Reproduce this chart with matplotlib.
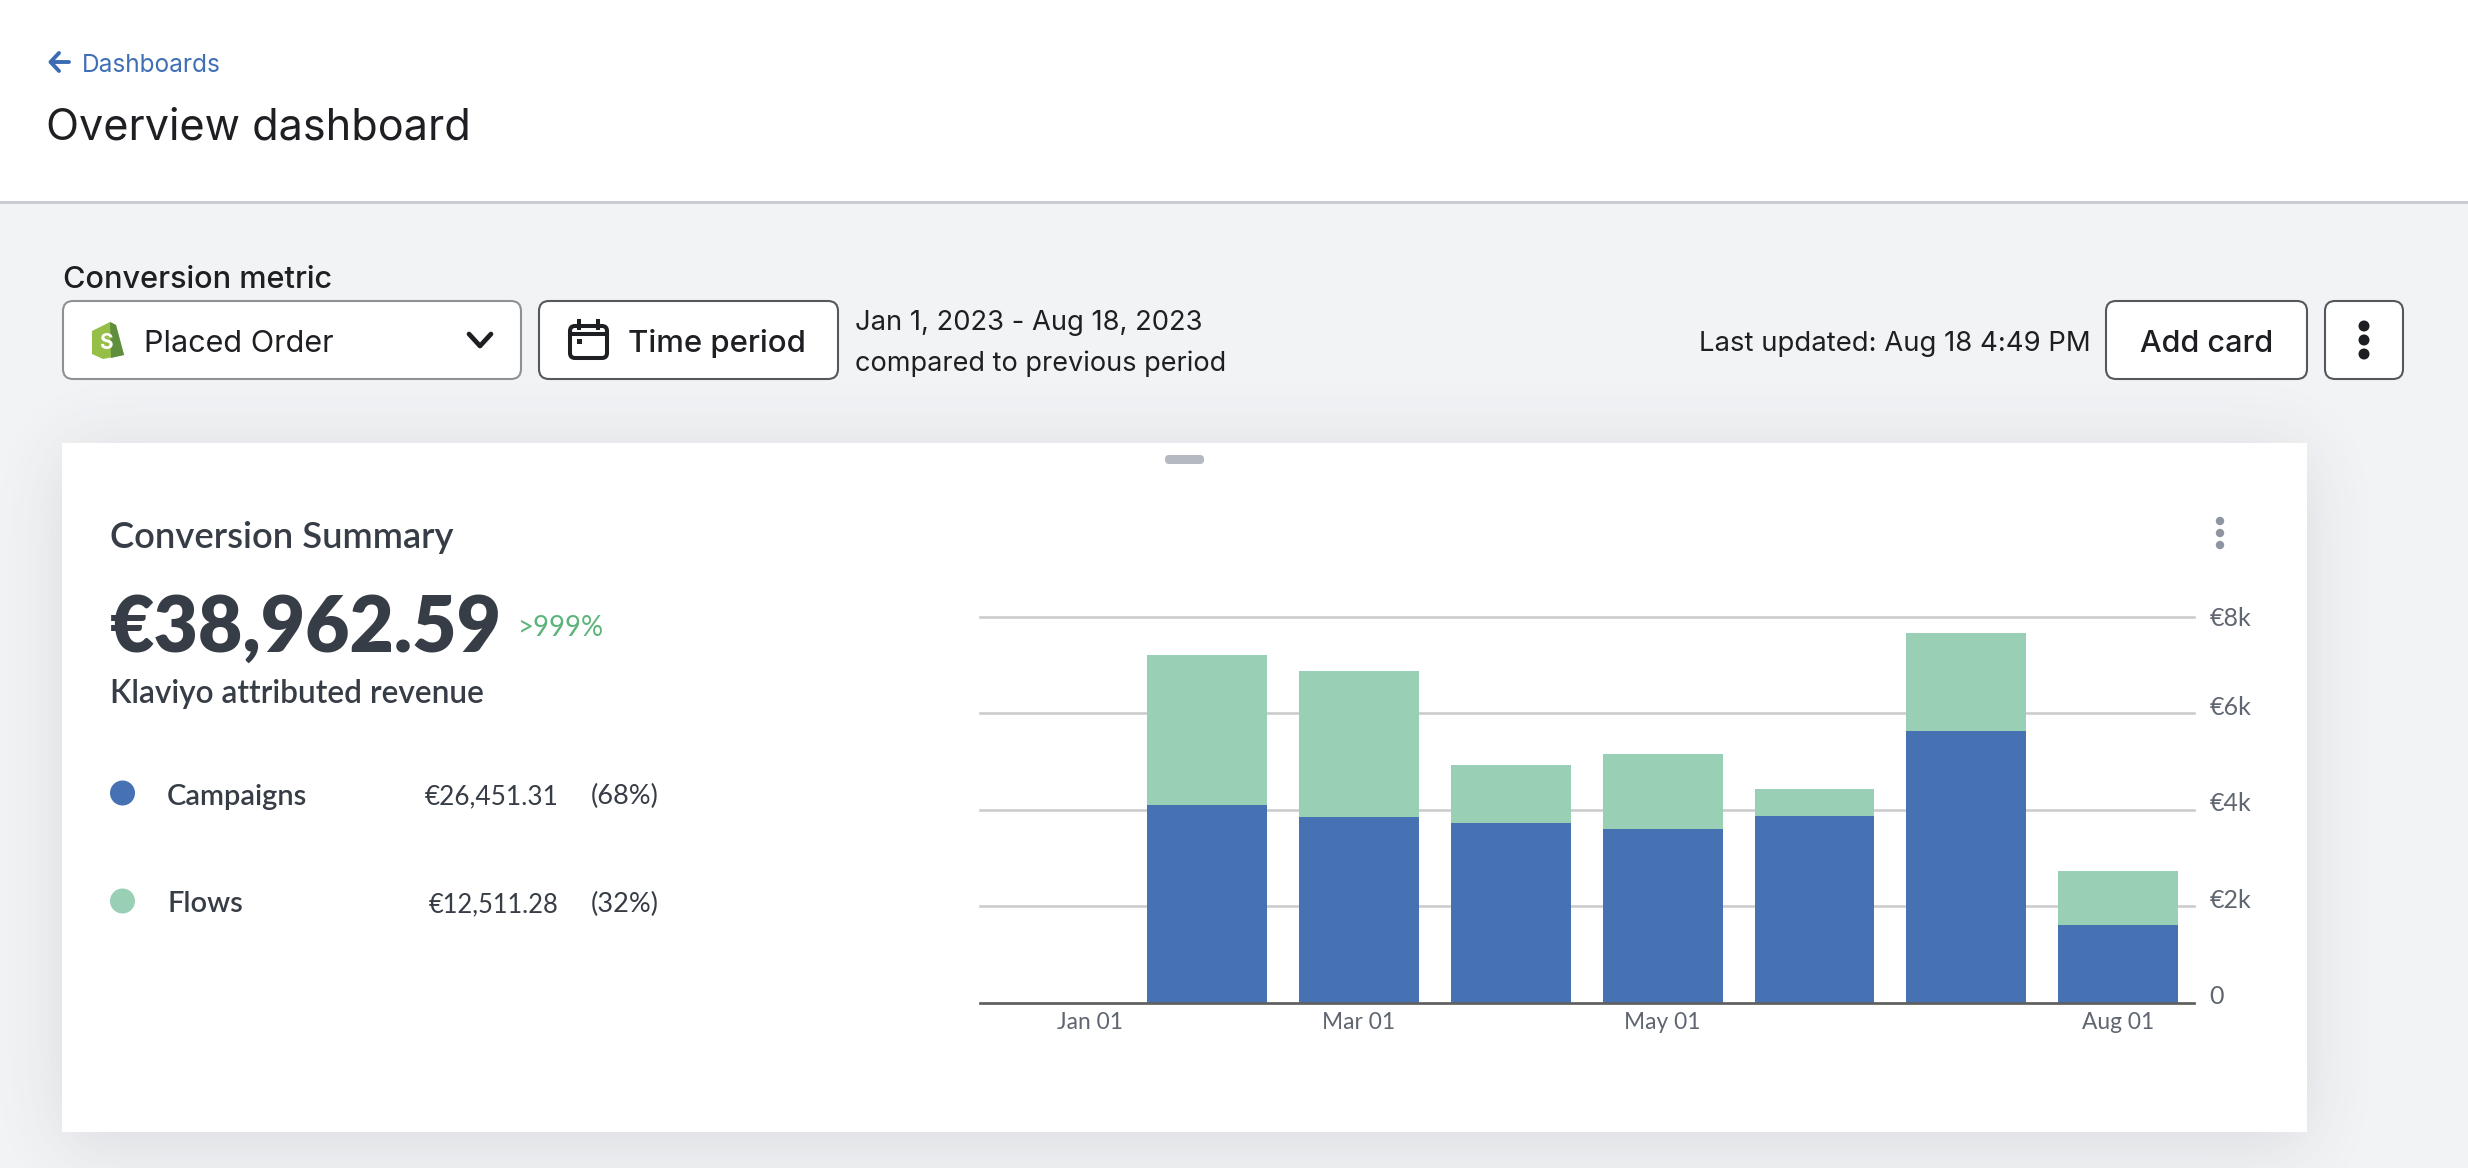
import math
import numpy as np
import matplotlib
matplotlib.use("Agg")
import matplotlib.pyplot as plt
from matplotlib.colors import to_rgb
from matplotlib.patches import FancyBboxPatch, Rectangle, Ellipse, Polygon
from matplotlib.transforms import ScaledTranslation

months = ["Jan", "Feb", "Mar", "Apr", "May", "Jun", "Jul", "Aug"]
campaigns = [0, 4104, 3852, 3733, 3607, 3859, 5637, 1615]
flows = [0, 3096, 3015, 1193, 1549, 563, 2022, 1111]
xtick_pos = [0, 2, 4, 7]
xtick_labels = ["Jan 01", "Mar 01", "May 01", "Aug 01"]
ytick_pos = [0, 2000, 4000, 6000, 8000]
ytick_labels = ["0", "€2k", "€4k", "€6k", "€8k"]

BLUE = "#4672b4"
GREEN = "#99cfb5"
DARK = "#1d1f22"
CARD_TXT = "#373d46"
MUTED = "#5f6670"
UI = ["Inter", "DejaVu Sans"]
CARD = ["Lato", "DejaVu Sans"]

W, H = 2468, 1168
fig = plt.figure(figsize=(W / 100, H / 100), dpi=100, facecolor="#f2f3f5")
ui = fig.add_axes([0, 0, 1, 1], zorder=0)
ui.set_xlim(0, W)
ui.set_ylim(H, 0)
ui.axis("off")


def text(x, y, s, size, color=DARK, family=UI, weight="normal", ha="left"):
    ui.text(x, y, s, fontsize=size, color=color, family=family, weight=weight,
            ha=ha, va="center_baseline")


def box(x0, y0, x1, y1, edge, lw=1.5, r=10, face="white"):
    ui.add_patch(FancyBboxPatch((x0 + r, y0 + r), x1 - x0 - 2 * r, y1 - y0 - 2 * r,
                                boxstyle=f"round,pad={r},rounding_size={r}",
                                fc=face, ec=edge, lw=lw))


def dots(x, ys, r, color):
    for y in ys:
        ui.add_patch(Ellipse((x, y), 2 * r, 2 * r, fc=color, ec="none"))


def soft_edge(coords, lo, hi, blur):
    erf = np.vectorize(math.erf)
    return 0.5 * (erf((coords - lo) / blur) - erf((coords - hi) / blur))


# header band
ui.add_patch(Rectangle((0, 0), W, 202, fc="white", ec="none"))
ui.add_patch(Rectangle((0, 201), W, 3, fc="#c8ccd3", ec="none"))
ui.plot([51, 69], [62, 62], color="#3a6bb4", lw=2.8, solid_capstyle="round")
ui.plot([59, 50.5, 59], [53, 62, 71], color="#3a6bb4", lw=2.8, solid_capstyle="round")
text(82, 63, "Dashboards", 17.6, color="#3f6fb5", family=UI)
text(46, 123, "Overview dashboard", 31.1)

# toolbar
text(63, 277, "Conversion metric", 22.1, weight="medium")
box(63, 301, 521, 379, "#8e9195")
box(539, 301, 838, 379, "#55585c")
ui.add_patch(Polygon([(92, 331), (110, 322), (116, 325), (124, 355), (103, 359), (92, 354)],
                     closed=True, fc="#95bf47", ec="none"))
ui.add_patch(Polygon([(110, 322), (116, 325), (124, 355), (111, 358)],
                     closed=True, fc="#5e8e3e", ec="none"))
ui.text(106, 343, "S", fontsize=15, color="white", family=UI, weight="bold",
        ha="center", va="center")
text(144, 341, "Placed Order", 22)
ui.plot([469, 480, 491], [334, 346, 334], color=DARK, lw=3.4, solid_capstyle="round",
        solid_joinstyle="round")
box(570, 326, 607, 358, DARK, lw=2.9, r=5)
ui.plot([570, 607], [334, 334], color=DARK, lw=2.9)
ui.plot([579, 579], [321, 328], color=DARK, lw=2.9)
ui.plot([598, 598], [321, 328], color=DARK, lw=2.9)
ui.add_patch(Rectangle((577, 339), 5, 5, fc=DARK, ec="none"))
text(628, 341, "Time period", 22.4, weight="medium")
text(855, 320, "Jan 1, 2023 - Aug 18, 2023", 19.7)
text(855, 361, "compared to previous period", 19.5)
text(1699, 341, "Last updated: Aug 18 4:49 PM", 19.8)
box(2106, 301, 2307, 379, "#55585c")
text(2206.5, 341, "Add card", 22, weight="medium", ha="center")
box(2325, 301, 2403, 379, "#55585c")
dots(2364, [326, 340, 354], 5.5, DARK)

# card shadow and card
gx = np.arange(W) + 0.5
gy = np.arange(H) + 0.5
shade = np.outer(soft_edge(gy, 443 + 10, 1132 + 10, 52), soft_edge(gx, 62, 2307, 46))
rgba = np.zeros((H, W, 4))
rgba[..., :3] = to_rgb("#3a4250")
rgba[..., 3] = 0.14 * shade
ui.imshow(rgba, extent=(0, W, H, 0), aspect="auto", zorder=0.5, interpolation="nearest")
ui.set_xlim(0, W)
ui.set_ylim(H, 0)
ui.add_patch(Rectangle((0, 0), W, 202, fc="white", ec="none", zorder=0.6))
ui.add_patch(Rectangle((0, 201), W, 3, fc="#c8ccd3", ec="none", zorder=0.6))
ui.add_patch(Rectangle((62, 443), 2245, 689, fc="white", ec="none"))
box(1165, 455, 1204, 464, "none", lw=0, r=4, face="#b5bac1")
dots(2220, [521, 533, 545], 4.2, "#8f95a0")

# card summary
text(110, 535, "Conversion Summary", 26.2, color=CARD_TXT, family=CARD, weight="semibold")
text(110, 623, "€38,962.59", 55.2, color=CARD_TXT, family=CARD, weight="heavy")
text(518, 625, ">999%", 19.8, color="#5cb47b", family=CARD)
text(110, 691, "Klaviyo attributed revenue", 22.8, color=CARD_TXT, family=CARD, weight="semibold")
ui.add_patch(Ellipse((122.5, 793), 25, 25, fc=BLUE, ec="none"))
ui.add_patch(Ellipse((122.5, 901), 25, 25, fc=GREEN, ec="none"))
text(167, 794, "Campaigns", 20.9, color=CARD_TXT, family=CARD, weight="semibold")
text(167, 902, "Flows", 20.9, color=CARD_TXT, family=CARD, weight="semibold")
text(559, 794, "€26,451.31", 18.9, color=CARD_TXT, family=CARD, ha="right")
text(559, 902, "€12,511.28", 18.4, color=CARD_TXT, family=CARD, ha="right")
text(659, 794, "(68%)", 19.5, color=CARD_TXT, family=CARD, ha="right")
text(659, 902, "(32%)", 19.5, color=CARD_TXT, family=CARD, ha="right")

# stacked bar chart
ax = fig.add_axes([979.5 / W, 1 - 1002.5 / H, (2194 - 979.5) / W, (1002.5 - 616.8) / H], zorder=1)
ax.patch.set_alpha(0)
x = list(range(len(months)))
ax.bar(x, campaigns, width=0.79, color=BLUE, zorder=3)
ax.bar(x, flows, width=0.79, bottom=campaigns, color=GREEN, zorder=3)
ax.set_xlim(-0.5, 7.5)
ax.set_ylim(0, 8000)
ax.yaxis.tick_right()
ax.set_yticks(ytick_pos, ytick_labels)
ax.set_xticks(xtick_pos, xtick_labels)
ax.grid(axis="y", color="#cccccc", lw=1.9, zorder=0)
for g in ax.get_ygridlines():
    g.set_clip_on(False)
ax.tick_params(length=0)
ax.tick_params(axis="y", pad=11, labelsize=18, labelcolor=MUTED)
ax.tick_params(axis="x", pad=6.5, labelsize=16.4, labelcolor=MUTED)
for lab in ax.get_xticklabels() + ax.get_yticklabels():
    lab.set_family(CARD)
for s in ("top", "left", "right"):
    ax.spines[s].set_visible(False)
ax.spines["bottom"].set_color("#5f5f5f")
ax.spines["bottom"].set_linewidth(1.9)
ax.spines["bottom"].set_zorder(5)
for lab in ax.get_yticklabels()[:-1]:
    lab.set_transform(lab.get_transform() + ScaledTranslation(0, 8 / 100, fig.dpi_scale_trans))
first = ax.get_xticklabels()[0]
first.set_transform(first.get_transform() + ScaledTranslation(35 / 100, 0, fig.dpi_scale_trans))

fig.savefig("out.png", dpi=100, facecolor=fig.get_facecolor())
